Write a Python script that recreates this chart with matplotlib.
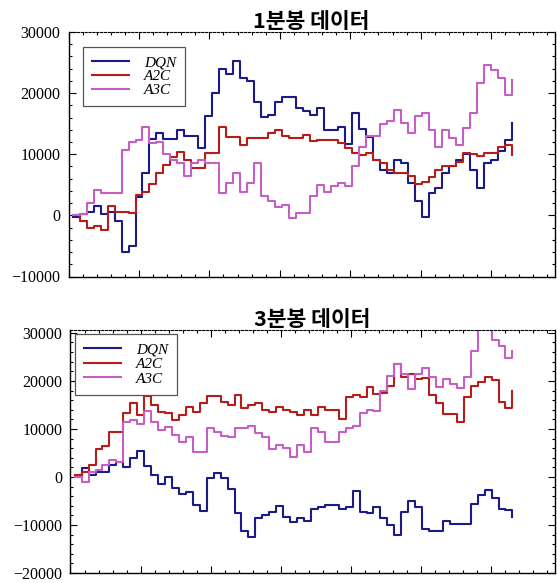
import numpy as np
import matplotlib
matplotlib.use("Agg")
import matplotlib.pyplot as plt
from matplotlib.ticker import MultipleLocator

# ---------------- data ----------------
titles = ["1분봉 데이터", "3분봉 데이터"]
series_names = ["DQN", "A2C", "A3C"]

dqn_1m = [-300, 200, 600, 1500, 200, 500, -1000, -6000, -5000, 3000,
          6900, 12500, 13500, 12500, 12500, 14000, 13000, 13000, 11000, 16200,
          20000, 24000, 23200, 25200, 22500, 22000, 18500, 16100, 16500, 18500,
          19400, 19400, 17500, 17000, 16500, 17500, 14000, 14000, 14500, 11700,
          16700, 14200, 12900, 9000, 7500, 7000, 9000, 8500, 5300, 2300,
          -300, 3700, 4500, 7000, 8000, 9000, 10000, 7500, 4500, 8500,
          9000, 10500, 12300, 15100]
a2c_1m = [0, -1000, -2100, -1800, -2400, 1600, 500, 500, 400, 3400,
          3900, 5200, 6900, 8300, 9500, 10300, 9100, 7700, 7800, 10200,
          10200, 14500, 12900, 12900, 11500, 12600, 12700, 12700, 13500, 14000,
          13000, 12600, 12600, 13100, 12200, 12400, 12400, 12300, 11800, 11100,
          10200, 9900, 10200, 9000, 8500, 7500, 7000, 7000, 6500, 5100,
          5500, 6300, 7400, 8000, 8100, 8800, 10200, 10000, 9700, 10200,
          10200, 11200, 11500, 9800]
a3c_1m = [0, 300, 2000, 4100, 3700, 3700, 3700, 10700, 12000, 12300,
          14500, 11800, 12000, 10000, 9000, 8500, 6500, 8500, 9000, 8600,
          8500, 3700, 5300, 6900, 3900, 5300, 8500, 3100, 2300, 1400,
          1700, -500, 400, 400, 3100, 5000, 3900, 4800, 5300, 4800,
          8000, 11200, 13000, 13000, 15000, 15500, 17200, 15100, 13500, 16200,
          16700, 14000, 11200, 14000, 12600, 11500, 14300, 16700, 21600, 24600,
          23800, 22500, 19700, 22100]

dqn_3m = [400, 1900, 500, 1100, 1000, 2500, 3200, 2000, 4000, 5500,
          2200, 500, -1500, 0, -2300, -3500, -3200, -5800, -7000, -200,
          800, -200, -2500, -7500, -11300, -12500, -8500, -7900, -7200, -6000,
          -8300, -9400, -8600, -9200, -6600, -6200, -5800, -5900, -6600, -6200,
          -3000, -7200, -7600, -6200, -8500, -10000, -12000, -7200, -5100, -6200,
          -10800, -11200, -11200, -9200, -9900, -9700, -9700, -5600, -3700, -2700,
          -4300, -6600, -6900, -8300]
a2c_3m = [400, 1000, 2500, 5900, 6400, 9400, 9400, 13300, 15300, 12900,
          16800, 15000, 13500, 13300, 11800, 12900, 14500, 13500, 15300, 16800,
          16800, 15600, 14900, 17000, 14400, 14900, 15300, 14000, 13500, 14500,
          14000, 13500, 13000, 14000, 13000, 14500, 14000, 14000, 12000, 16600,
          17000, 16600, 18700, 17300, 17500, 19000, 23500, 20800, 21500, 20500,
          20700, 17000, 15300, 13200, 13200, 11500, 16600, 19000, 19700, 20800,
          20200, 15600, 14300, 18000]
a3c_3m = [0, -1000, 1000, 1500, 2500, 3500, 3200, 11500, 11800, 11000,
          13700, 11500, 9700, 10400, 8700, 7300, 8400, 5200, 5200, 10100,
          9400, 8500, 8300, 10100, 10100, 10700, 9100, 8300, 5800, 6600,
          6000, 4200, 6600, 5200, 10100, 9400, 7300, 7300, 9400, 10100,
          10700, 13300, 14000, 13700, 18000, 21100, 23600, 21500, 18400, 21500,
          22600, 20800, 18700, 20500, 19300, 18500, 20800, 26300, 31500, 31000,
          28500, 27300, 24800, 26300]

panels = [
    dict(title=titles[0], values=[dqn_1m, a2c_1m, a3c_1m], ylim=(-10000, 30000),
         rect=[68.5, 32, 554.5, 276.5], legend_anchor=(0.03, 0.939),
         labelspacing=0.0),
    dict(title=titles[1], values=[dqn_3m, a2c_3m, a3c_3m], ylim=(-20000, 30600),
         rect=[70.5, 330, 554.5, 573], legend_anchor=(0.009, 0.984),
         labelspacing=0.05),
]
colors = ["#1a1a88", "#b81c18", "#c55ec5"]

W, H = 557, 583
fig = plt.figure(figsize=(W / 100, H / 100), dpi=100)

for p in panels:
    x0, y0, x1, y1 = p["rect"]
    ax = fig.add_axes([x0 / W, 1 - y1 / H, (x1 - x0) / W, (y1 - y0) / H])
    for name, vals, c in zip(series_names, p["values"], colors):
        x = np.linspace(6, 630, len(vals))
        ax.step(x, vals, where="post", color=c, lw=1.5, label=name)
    ax.set_xlim(0, 690)
    ax.set_ylim(*p["ylim"])
    ax.xaxis.set_major_locator(MultipleLocator(100))
    ax.xaxis.set_minor_locator(MultipleLocator(20))
    ax.yaxis.set_major_locator(MultipleLocator(10000))
    ax.yaxis.set_minor_locator(MultipleLocator(2000))
    ax.tick_params(which="both", direction="in", top=True, right=True,
                   labelbottom=False, width=0.8)
    ax.tick_params(which="major", length=5, pad=6)
    ax.tick_params(which="minor", length=2.5)
    for lab in ax.get_yticklabels():
        lab.set_fontfamily("Liberation Serif")
        lab.set_fontsize(11.5)
    ax.spines["top"].set_linestyle((0, (2, 1.5)))
    ax.spines["top"].set_linewidth(0.8)
    for s in ["left", "bottom", "right"]:
        ax.spines[s].set_linewidth(1.0)
    ax.set_title(p["title"], fontsize=15.5, fontweight="bold",
                 family=["Noto Sans CJK KR", "DejaVu Sans"], pad=3)
    leg = ax.legend(loc="upper left", bbox_to_anchor=p["legend_anchor"],
                    borderaxespad=0, fancybox=False, framealpha=1,
                    edgecolor="#555555", handlelength=2.4, handletextpad=1.0,
                    labelspacing=p["labelspacing"], borderpad=0.6,
                    prop=dict(family="Liberation Serif", style="italic", size=11))
    leg.get_frame().set_linewidth(0.9)

fig.savefig("out.png", dpi=100)
